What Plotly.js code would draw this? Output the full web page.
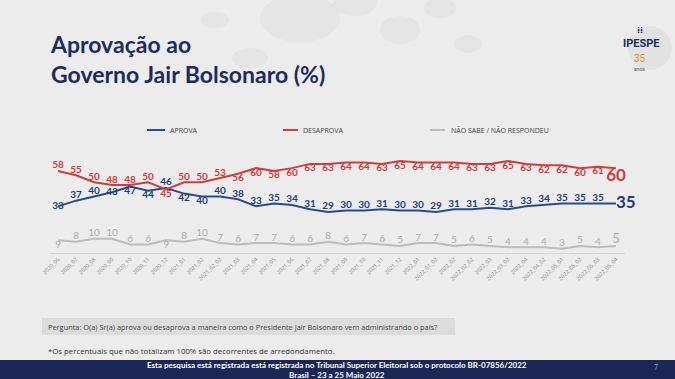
<!DOCTYPE html>
<html>
<head>
<meta charset="utf-8">
<script src="https://cdn.plot.ly/plotly-3.0.1.min.js"></script>
<style>
html,body{margin:0;padding:0;background:#ececec;}
#chart{width:675px;height:379px;}
</style>
</head>
<body>
<div id="chart"></div>
<script>
// ---- data ----
const categories = ["2020_06","2020_07","2020_08","2020_09","2020_10","2020_11","2020_12","2021_01","2021_02","2021_02_02","2021_03","2021_04","2021_05","2021_06","2021_07","2021_08","2021_09","2021_10","2021_11","2021_12","2022_01","2022_01_02","2022_02","2022_02_02","2022_03","2022_03_02","2022_04","2022_04_02","2022_05_01","2022_05_02","2022_05_03","2022_05_04"];
const aprova    = [33,37,40,43,47,44,46,42,40,40,38,33,35,34,31,29,30,30,31,30,30,29,31,31,32,31,33,34,35,35,35,35];
const desaprova = [58,55,50,48,48,50,45,50,50,53,56,60,58,60,63,63,64,64,63,65,64,64,64,63,63,65,63,62,62,60,61,60];
const naoSabe   = [9,8,10,10,6,6,9,8,10,7,6,7,7,6,6,8,6,7,6,5,7,7,5,6,5,4,4,4,3,5,4,5];
const seriesNames = ["APROVA","DESAPROVA","NÃO SABE / NÃO RESPONDEU"];

// ---- label placement (style) ----
const n = categories.length;
const posA = categories.map((c,i)=> i===0||i===3 ? "middle center" : (i===4||i===5||i===7||i===8) ? "bottom center" : i===n-1 ? "middle right" : "top center");
const posD = categories.map((c,i)=> i<=5||i===7||i===8||i===9 ? "top center" : "bottom center");
const posN = categories.map((c,i)=> i===0||i===6 ? "bottom center" : "top center");
const sizeLast = (s,b)=> categories.map((c,i)=> i===n-1 ? b : s);

// ---- pixel helpers for page decoration ----
const L=50, R=625, T=154, B=253;
const px = x => (x-L)/(R-L);
const py = y => (B-y)/(B-T);

const colA = "#2c4a88", colD = "#d43b3b", colN = "#bcbcbc";
const labFont = "Lato, 'Open Sans', sans-serif";

const traces = [
  {x:categories, y:aprova, name:seriesNames[0], mode:"lines+text", text:aprova.map(String),
   textposition:posA, textfont:{family:labFont, size:sizeLast(10,17), color:"#233f78", weight:"bold"},
   line:{color:colA, width:2}, cliponaxis:false, hoverinfo:"x+y"},
  {x:categories, y:desaprova, name:seriesNames[1], mode:"lines+text", text:desaprova.map(String),
   textposition:posD, textfont:{family:labFont, size:sizeLast(10,17), color:"#d23a3a", weight:"bold"},
   line:{color:colD, width:2}, cliponaxis:false, hoverinfo:"x+y"},
  {x:categories, y:naoSabe, name:seriesNames[2], mode:"lines+text", text:naoSabe.map(String),
   textposition:posN, textfont:{family:labFont, size:sizeLast(10,13), color:"#acacac"},
   line:{color:colN, width:2}, cliponaxis:false, hoverinfo:"x+y"}
];

const shapes = [];
const annotations = [];
function note(x, y, text, font, xanchor){
  annotations.push({xref:"paper", yref:"paper", x:px(x), y:py(y), text:text, showarrow:false,
    xanchor:xanchor||"center", yanchor:"middle", font:font});
}
// faint decorative blobs
[[300,18,40,24],[250,58,18,10],[355,2,22,14],[400,30,20,14],[440,8,16,10],[468,44,14,9],[215,20,14,8]].forEach(b=>{
  shapes.push({type:"circle", xref:"paper", yref:"paper", x0:px(b[0]-b[2]), x1:px(b[0]+b[2]), y0:py(b[1]+b[3]), y1:py(b[1]-b[3]),
    fillcolor:"rgba(205,205,205,0.22)", line:{width:0}, layer:"below"});
});
// logo
shapes.push({type:"circle", xref:"paper", yref:"paper", x0:px(628), x1:px(672), y0:py(70), y1:py(26), fillcolor:"rgba(210,210,210,0.35)", line:{width:0}, layer:"below"});
note(640, 30, "<b>⁞⁞</b>", {family:"DejaVu Sans, sans-serif", size:8, color:"#1e2b5e"});
note(641, 43, "<b>IPESPE</b>", {family:"Roboto, sans-serif", size:11, color:"#1e2b5e"});
note(632, 58, "35", {family:"Roboto, sans-serif", size:10, color:"#f08a24"}, "left");
note(632, 68.5, "anos", {family:"Roboto, sans-serif", size:5, color:"#555"}, "left");

// manual legend
const legY = 130;
[[147,165,168,colA],[283,298,301,colD],[430,445,449,colN]].forEach((l,i)=>{
  shapes.push({type:"line", xref:"paper", yref:"paper", x0:px(l[0]), x1:px(l[1]), y0:py(legY), y1:py(legY), line:{color:l[3], width:2}});
  note(l[2], legY, seriesNames[i], {family:"'Open Sans', sans-serif", size:7, color:"#444"}, "left");
});

// question box
shapes.push({type:"rect", xref:"paper", yref:"paper", x0:px(42), x1:px(455), y0:py(335), y1:py(318), fillcolor:"#dcdcdc", line:{width:0}, layer:"below"});
note(46, 326.5, "Pergunta: O(a) Sr(a) aprova ou desaprova a maneira como o Presidente Jair Bolsonaro vem administrando o país?",
  {family:"'Open Sans', sans-serif", size:7.4, color:"#444"}, "left");
note(46, 351, "*Os percentuais que não totalizam 100% são decorrentes de arredondamento.",
  {family:"'Open Sans', sans-serif", size:7.8, color:"#333"}, "left");

// bottom bar
shapes.push({type:"rect", xref:"paper", yref:"paper", x0:px(0), x1:px(675), y0:py(379), y1:py(360), fillcolor:"#1b2857", line:{width:0}});
note(337, 370, "Esta pesquisa está registrada está registrada no Tribunal Superior Eleitoral sob o protocolo BR-07856/2022<br>Brasil – 23 a 25 Maio 2022",
  {family:"Lato, sans-serif", size:8, color:"#ffffff", weight:"bold"});
note(656, 367, "7", {family:"Lato, sans-serif", size:7, color:"#8a93b5"});

const layout = {
  width:675, height:379,
  paper_bgcolor:"#ececec", plot_bgcolor:"#ececec",
  margin:{l:L, r:675-R, t:T, b:379-B, pad:0},
  showlegend:false,
  title:{text:"Aprovação ao<br>Governo Jair Bolsonaro (%)", xref:"container", yref:"container", x:51/675, y:1-53/379,
    xanchor:"left", yanchor:"top", font:{family:"Lato, sans-serif", size:23, color:"#1e2b5e", weight:"bold"}},
  xaxis:{type:"category", range:[-0.45, n-0.5], showgrid:false, zeroline:false, showline:true, linecolor:"#d4d4d4", linewidth:1,
    ticks:"", tickangle:-45, tickfont:{family:"'Open Sans', sans-serif", size:5.5, color:"#8a8a8a"}, automargin:false},
  yaxis:{range:[0,70], visible:false, showgrid:false, zeroline:false},
  shapes:shapes, annotations:annotations
};

Plotly.newPlot("chart", traces, layout, {displayModeBar:false, staticPlot:true});
</script>
</body>
</html>
